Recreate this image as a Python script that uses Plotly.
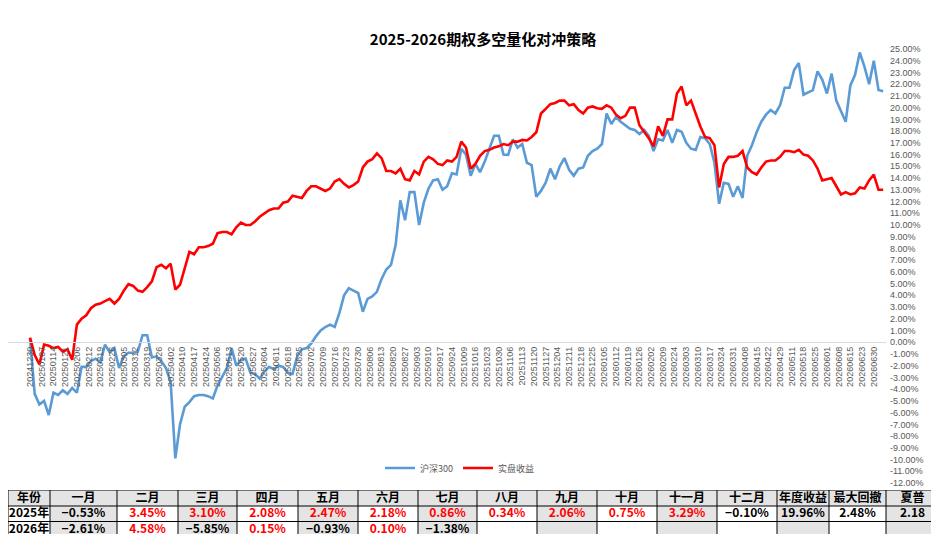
import plotly.graph_objects as go

title = "2025-2026期权多空量化对冲策略"

# one value every 2 trading days (percent)
step_days = 2

date_labels = [
    "20241230", "20250107", "20250114", "20250121", "20250206", "20250212", "20250219", "20250226",
    "20250305", "20250312", "20250319", "20250326", "20250402", "20250410", "20250417", "20250424",
    "20250506", "20250513", "20250520", "20250527", "20250604", "20250611", "20250618", "20250625",
    "20250702", "20250709", "20250716", "20250723", "20250730", "20250806", "20250813", "20250820",
    "20250827", "20250903", "20250910", "20250917", "20250924", "20251009", "20251016", "20251023",
    "20251030", "20251106", "20251113", "20251120", "20251127", "20251204", "20251211", "20251218",
    "20251225", "20260105", "20260112", "20260119", "20260126", "20260202", "20260209", "20260224",
    "20260303", "20260310", "20260317", "20260324", "20260331", "20260408", "20260415", "20260422",
    "20260429", "20260511", "20260518", "20260525", "20260601", "20260608", "20260615", "20260623",
    "20260630",
]

hs300 = [
    0.3, -4.4, -5.3, -5.0, -6.2, -4.3, -4.5, -4.1, -4.4, -3.9,
    -4.3, -2.1, -2.1, -1.6, -1.4, -1.7, -0.2, -0.85, -0.5, -2.2,
    -1.2, -0.9, -0.9, -0.8, 0.6, 0.6, -1.3, -1.2, -1.6, -2.2,
    -3.4, -9.9, -7.0, -5.5, -5.1, -4.6, -4.5, -4.5, -4.6, -4.8,
    -3.7, -2.9, -2.2, -0.5, -2.0, -1.5, -1.4, -2.6, -2.7, -3.1,
    -2.5, -2.1, -2.3, -2.0, -2.1, -2.6, -2.7, -1.2, -0.6, -0.5,
    -0.1, 0.5, 1.0, 1.3, 1.5, 1.3, 2.5, 4.0, 4.6, 4.4,
    4.2, 2.6, 3.7, 3.9, 4.3, 5.4, 6.2, 6.6, 8.3, 12.1,
    10.4, 12.8, 12.8, 10.0, 11.9, 13.1, 13.8, 13.9, 13.0, 13.3,
    14.4, 14.3, 16.5, 16.0, 14.2, 15.2, 14.5, 15.4, 16.5, 17.6,
    17.6, 16.0, 15.97, 17.3, 16.6, 16.9, 15.3, 15.1, 12.4, 12.9,
    13.6, 14.8, 13.9, 15.0, 15.7, 14.7, 14.2, 14.8, 14.9, 15.9,
    16.3, 16.5, 16.9, 19.5, 18.6, 19.2, 18.8, 18.5, 18.2, 18.1,
    17.75, 18.1, 17.6, 16.3, 17.3, 17.2, 18.1, 17.0, 18.1, 17.95,
    17.0, 16.5, 16.4, 17.5, 17.4, 16.9, 15.3, 11.8, 13.6, 13.5,
    12.4, 13.3, 12.3, 15.9, 16.8, 17.9, 18.8, 19.4, 19.8, 19.5,
    20.2, 21.7, 21.7, 23.2, 23.8, 21.1, 21.3, 21.5, 23.1, 22.4,
    21.2, 22.9, 20.6, 19.7, 18.8, 21.9, 22.8, 24.7, 23.5, 22.0,
    24.0, 21.5, 21.4,
]

strategy = [
    0.4, -1.1, -1.9, -0.2, -0.3, -0.5, -0.4, -0.8, -0.6, -1.5,
    1.5, 2.0, 2.3, 2.9, 3.2, 3.3, 3.5, 3.7, 3.3, 3.7,
    4.4, 4.95, 4.8, 4.4, 4.3, 4.7, 5.2, 6.4, 6.6, 6.3,
    6.7, 4.5, 4.9, 6.2, 7.7, 7.5, 8.1, 8.1, 8.2, 8.4,
    9.3, 9.4, 9.4, 9.2, 9.8, 10.2, 10.0, 10.0, 10.3, 10.7,
    11.0, 11.25, 11.4, 11.4, 11.9, 12.0, 12.5, 12.4, 12.3, 12.9,
    13.3, 13.3, 13.1, 12.9, 13.1, 13.7, 13.9, 13.5, 13.2, 13.4,
    13.7, 14.9, 15.4, 15.6, 16.1, 15.7, 14.6, 14.6, 14.4, 14.8,
    13.9, 13.8, 14.6, 14.3, 15.4, 15.8, 15.6, 15.2, 15.1, 15.5,
    15.4, 15.8, 17.1, 16.6, 14.8, 15.2, 15.9, 16.3, 16.4, 16.6,
    16.7, 16.9, 16.8, 17.1, 17.1, 17.25, 17.2, 17.5, 17.9, 19.5,
    19.9, 20.3, 20.4, 20.6, 20.6, 20.2, 20.3, 19.8, 19.5, 20.0,
    20.1, 19.95, 19.9, 20.2, 20.0, 19.4, 19.1, 19.3, 20.0, 20.0,
    18.5, 18.0, 17.4, 16.7, 18.4, 17.6, 19.0, 19.0, 21.2, 21.8,
    20.2, 20.6, 19.4, 18.4, 17.5, 17.4, 16.8, 13.2, 15.2, 15.8,
    15.8, 15.9, 16.3, 14.9, 14.5, 14.3, 14.9, 15.4, 15.5, 15.5,
    15.8, 16.3, 16.3, 16.2, 16.4, 16.0, 15.9, 15.5, 14.8, 13.8,
    13.9, 14.0, 13.3, 12.6, 12.8, 12.6, 12.7, 13.2, 13.1, 13.8,
    14.3, 13.0, 13.0,
]

y_ticks = list(range(-12, 26))

table_header = ["年份", "一月", "二月", "三月", "四月", "五月", "六月", "七月", "八月",
                "九月", "十月", "十一月", "十二月", "年度收益", "最大回撤", "夏普"]
row_2025 = ["2025年", "−0.53%", "3.45%", "3.10%", "2.08%", "2.47%", "2.18%", "0.86%", "0.34%",
            "2.06%", "0.75%", "3.29%", "−0.10%", "19.96%", "2.48%", "2.18"]
row_2026 = ["2026年", "−2.61%", "4.58%", "−5.85%", "0.15%", "−0.93%", "0.10%", "−1.38%", "",
            "", "", "", "", "", "", ""]

# layout of the page (figure pixels; the page adds an 8px body margin)
W, H = 931, 526
plot_top, plot_bottom = 41, 475
col_widths = [42, 67, 61, 59, 61, 60, 60, 59, 60, 60, 60, 60, 60, 52, 57, 53]
row_heights = [16, 15.5, 15.5]
table_h = 44

x = [i * step_days for i in range(len(hs300))]
tick_pos = [i * 5 for i in range(len(date_labels))]

y_dom = [(H - plot_bottom) / H, (H - plot_top) / H]
zero_pos = y_dom[0] + 12 / 37 * (y_dom[1] - y_dom[0])

fig = go.Figure()

fig.add_trace(go.Scatter(
    x=x, y=hs300, name="沪深300", mode="lines",
    line=dict(color="#5B9BD5", width=2.6),
))
fig.add_trace(go.Scatter(
    x=x, y=strategy, name="实盘收益", mode="lines",
    line=dict(color="#FF0000", width=2.6),
))

# ---- monthly table, drawn on its own axes ----
gray = "#E4E4E4"
x_edges = [0]
for w in col_widths:
    x_edges.append(x_edges[-1] + w)
y_edges = [0]
for h in row_heights:
    y_edges.append(y_edges[-1] + h)

rows = [table_header, row_2025, row_2026]
z = [[1] * len(table_header)]
for _ in rows[1:]:
    z.append([c % 2 for c in range(len(table_header))])

fig.add_trace(go.Heatmap(
    x=x_edges, y=y_edges, z=z,
    colorscale=[[0, "white"], [1, gray]], zmin=0, zmax=1,
    showscale=False, hoverinfo="skip",
    xaxis="x2", yaxis="y2",
))

tx, ty, tt, tc = [], [], [], []
for ri, r in enumerate(rows):
    for ci, v in enumerate(r):
        if not v:
            continue
        tx.append((x_edges[ci] + x_edges[ci + 1]) / 2)
        ty.append((y_edges[ri] + y_edges[ri + 1]) / 2 + 0.5)
        tt.append("<b>" + v + "</b>")
        if ri > 0 and 1 <= ci <= 12 and not v.startswith("−"):
            tc.append("#FF0000")
        else:
            tc.append("black")

fig.add_trace(go.Scatter(
    x=tx, y=ty, text=tt, mode="text",
    textposition="middle center",
    textfont=dict(family="Noto Sans CJK SC", size=12, color=tc),
    hoverinfo="skip", showlegend=False,
    xaxis="x2", yaxis="y2",
))

grid = []
for e in x_edges:
    grid.append(dict(type="line", xref="x2", yref="y2", x0=e, x1=e, y0=0, y1=y_edges[-1],
                     line=dict(color="black", width=1)))
for e in y_edges:
    grid.append(dict(type="line", xref="x2", yref="y2", x0=0, x1=x_edges[-1], y0=e, y1=e,
                     line=dict(color="black", width=1)))

fig.update_layout(
    width=W,
    height=H,
    margin=dict(l=0, r=0, t=0, b=0, autoexpand=False),
    paper_bgcolor="white",
    plot_bgcolor="white",
    shapes=grid,
    title=dict(
        text="<b>" + title + "</b>",
        x=475 / W, xref="container", xanchor="center",
        y=1 - 32 / H, yref="container", yanchor="middle",
        font=dict(family="Noto Sans CJK SC", size=15, color="black"),
    ),
    xaxis=dict(
        domain=[0, 878 / W],
        range=[-9.39, 365.2],
        anchor="free",
        position=zero_pos,
        tickmode="array",
        tickvals=tick_pos,
        ticktext=date_labels,
        tickangle=-90,
        tickfont=dict(family="Liberation Sans", size=9, color="#595959"),
        showgrid=False,
        zeroline=False,
        showline=True,
        linecolor="#D9D9D9",
        linewidth=1,
        ticks="",
        automargin=False,
    ),
    yaxis=dict(
        range=[-12, 25],
        domain=y_dom,
        side="right",
        tickmode="array",
        tickvals=y_ticks,
        ticktext=[f"{v:.2f}%" for v in y_ticks],
        tickfont=dict(family="Liberation Sans", size=9, color="#595959"),
        showgrid=False,
        zeroline=False,
        showline=False,
        ticks="",
        ticklabelstandoff=3,
        automargin=False,
    ),
    xaxis2=dict(
        domain=[0, 1], range=[0, W], anchor="y2",
        visible=False, fixedrange=True,
    ),
    yaxis2=dict(
        domain=[0, table_h / H], range=[table_h, 0], anchor="x2",
        visible=False, fixedrange=True,
    ),
    legend=dict(
        orientation="h",
        x=452 / W, xanchor="center",
        y=(H - 460) / H, yanchor="middle",
        bgcolor="rgba(0,0,0,0)",
        font=dict(family="Noto Sans CJK SC", size=9, color="#595959"),
    ),
    showlegend=True,
)

fig.write_html("out.html")
